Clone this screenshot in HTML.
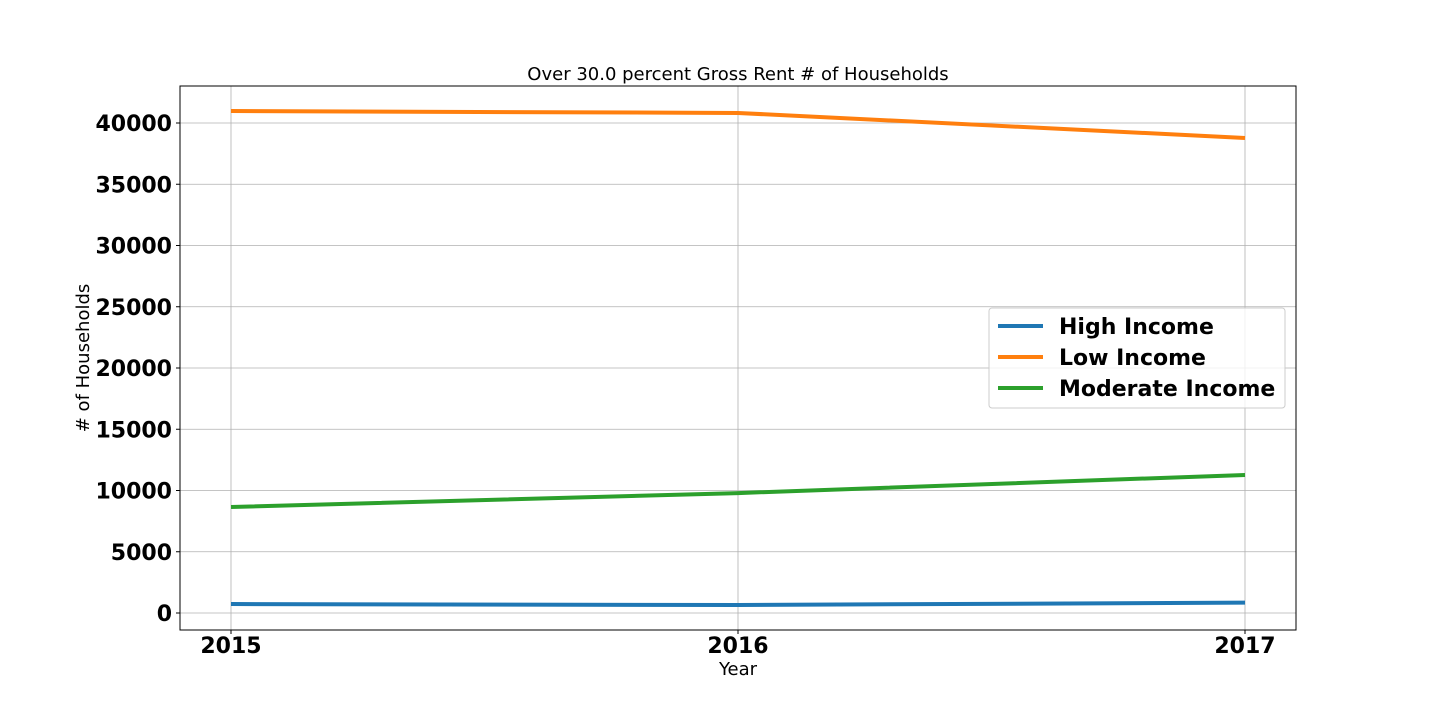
<!DOCTYPE html>
<html><head><meta charset="utf-8"><style>
body{margin:0;background:#fff;}
svg text{font-family:"DejaVu Sans","Liberation Sans",sans-serif;}
</style></head><body>
<svg id="chart" width="1440" height="720" xmlns="http://www.w3.org/2000/svg">
<rect width="1440" height="720" fill="#fff"/>
<text x="738" y="80" text-anchor="middle" font-size="18">Over 30.0 percent Gross Rent # of Households</text>
<g id="grid"></g>
<g id="lines"></g>
<rect x="180" y="86" width="1116" height="544" fill="none" stroke="#000" stroke-width="1"/>
<g id="ticks"></g>
<text x="738" y="675" text-anchor="middle" font-size="18">Year</text>
<text transform="translate(89,358) rotate(-90)" text-anchor="middle" font-size="18"># of Households</text>
<g>
<rect x="989" y="308" width="296" height="100" rx="3" fill="#fff" fill-opacity="0.8" stroke="#ccc"/>
<g id="legend-items"></g>
</g>
</svg>
<script>
const years = [2015, 2016, 2017];
const seriesNames = ["High Income", "Low Income", "Moderate Income"];
const highIncome = [730, 650, 850];
const lowIncome = [40980, 40820, 38780];
const moderateIncome = [8650, 9790, 11270];
const yTicks = [0, 5000, 10000, 15000, 20000, 25000, 30000, 35000, 40000];
const colors = ["#1f77b4", "#ff7f0e", "#2ca02c"];
const allSeries = [highIncome, lowIncome, moderateIncome];
const NS = "http://www.w3.org/2000/svg";
function xs(v){return 231 + (v - 2015) * 507;}
function ys(v){return 613 - v * 0.01225;}
function mk(tag, attrs, parent){const e=document.createElementNS(NS,tag);for(const k in attrs)e.setAttribute(k,attrs[k]);parent.appendChild(e);return e;}
const grid=document.getElementById('grid'), ticks=document.getElementById('ticks'), lines=document.getElementById('lines'), leg=document.getElementById('legend-items');
years.forEach(y=>{
  const l=mk('line',{x1:xs(y),x2:xs(y),y1:86,y2:630,stroke:'#b0b0b0','stroke-width':0.8},grid);
  
  
  const t=mk('line',{x1:xs(y),x2:xs(y),y1:630,y2:634,stroke:'#000'},ticks);
  
  
  const tx=mk('text',{x:xs(y),y:653,'text-anchor':'middle','font-size':22,'font-weight':'bold'},ticks);
  tx.textContent=y;
  
  
});
yTicks.forEach(v=>{
  const l=mk('line',{x1:180,x2:1296,y1:ys(v),y2:ys(v),stroke:'#b0b0b0','stroke-width':0.8},grid);
  
  
  const t=mk('line',{x1:176,x2:180,y1:ys(v),y2:ys(v),stroke:'#000'},ticks);
  
  
  const tx=mk('text',{x:172,y:ys(v)+8,'text-anchor':'end','font-size':22,'font-weight':'bold'},ticks);
  tx.textContent=v;
  
  
});
allSeries.forEach((s,i)=>{
  const p=mk('polyline',{points:s.map((v,j)=>xs(years[j])+','+ys(v)).join(' '),fill:'none',stroke:colors[i],'stroke-width':4},lines);
  
  
  const ly=326+i*31;
  const ll=mk('line',{x1:998,x2:1043,y1:ly,y2:ly,stroke:colors[i],'stroke-width':4},leg);
  
  
  const lt=mk('text',{x:1059,y:ly+8,'font-size':22,'font-weight':'bold'},leg);
  lt.textContent=seriesNames[i];
  
  
});
</script>
</body></html>
